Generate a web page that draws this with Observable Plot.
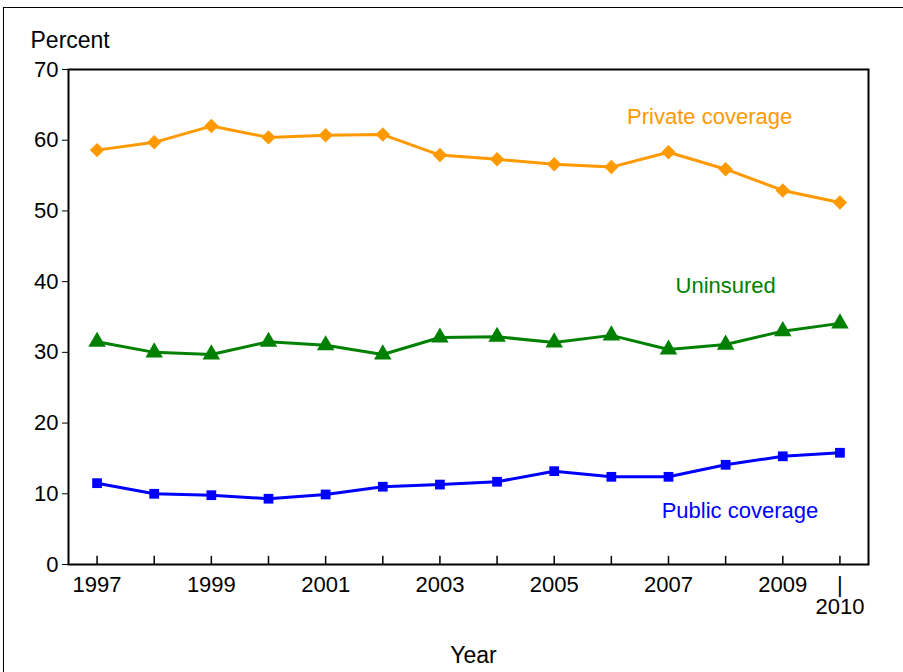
<!DOCTYPE html>
<html><head>
<script src="https://cdn.jsdelivr.net/npm/d3@7"></script>
<script src="https://cdn.jsdelivr.net/npm/@observablehq/plot@0.6"></script>
<style>
body{margin:0;background:#fff;font-family:"Liberation Sans",Arial,sans-serif;}
#wrap{position:relative;width:903px;height:672px;overflow:hidden;}
#border{position:absolute;left:3px;top:7px;width:1000px;height:1000px;border:1.5px solid #000;}
#chart{position:absolute;left:0;top:0;}
</style></head>
<body><div id="wrap"><div id="border"></div><div id="chart"></div></div>
<script>
const years=[1997,1998,1999,2000,2001,2002,2003,2004,2005,2006,2007,2008,2009,2010];
const privateCov=[58.6,59.7,62.0,60.4,60.7,60.8,57.9,57.3,56.6,56.2,58.3,55.9,52.9,51.2];
const uninsured=[31.5,30.0,29.7,31.5,31.0,29.7,32.1,32.2,31.4,32.4,30.4,31.1,33.0,34.1];
const publicCov=[11.5,10.0,9.8,9.3,9.9,11.0,11.3,11.7,13.2,12.4,12.4,14.1,15.3,15.8];
const tickYears=[1997,1999,2001,2003,2005,2007,2009,2010];
const yTicks=[0,10,20,30,40,50,60,70];
const series=[
 {name:"Private coverage",vals:privateCov,color:"#FF9900",sym:"diamond2",lx:2007.72,ly:63.3},
 {name:"Uninsured",vals:uninsured,color:"#008000",sym:"triangle",lx:2008.0,ly:39.4},
 {name:"Public coverage",vals:publicCov,color:"#0000FF",sym:"square",lx:2008.25,ly:7.6}
];
const data=series.flatMap(s=>years.map((y,i)=>({year:y,value:s.vals[i],name:s.name,color:s.color,sym:s.sym})));
const marks=[Plot.frame({stroke:"#000",strokeWidth:2}),
 Plot.ruleX(years,{x:d=>d,y1:0,y2:1.15,stroke:"#000",strokeWidth:1.5}),
 Plot.axisY({ticks:yTicks,tickSize:6,tickPadding:4,label:null,fontSize:22}),
 Plot.axisX({ticks:tickYears,tickSize:0,tickPadding:12,label:null,fontSize:22,tickFormat:d=>d===2010?"|\n2010":String(d)}),
 Plot.text(["Percent"],{frameAnchor:"top-left",dx:-38,dy:-38,fontSize:23,textAnchor:"start"}),
 Plot.text(["Year"],{frameAnchor:"bottom",dx:5,dy:98,fontSize:23})
];
for(const s of series){
 const d=data.filter(r=>r.name===s.name);
 marks.push(Plot.line(d,{x:"year",y:"value",stroke:s.color,strokeWidth:3}));
 marks.push(Plot.dot(d,{x:"year",y:"value",fill:s.color,symbol:s.sym,r:s.sym==="square"?5.5:6.5}));
 marks.push(Plot.text([s.name],{x:s.lx,y:s.ly,text:d=>d,fill:s.color,fontSize:22}));
}
const p=Plot.plot({width:903,height:672,marginLeft:68,marginRight:35,marginTop:69,marginBottom:108,
 style:{fontFamily:"Liberation Sans, Arial, sans-serif",fontSize:"22px",background:"transparent",color:"#000"},
 x:{domain:[1996.5,2010.5],axis:null},y:{domain:[0,70],axis:null},marks});
document.getElementById("chart").append(p);
</script></body></html>
